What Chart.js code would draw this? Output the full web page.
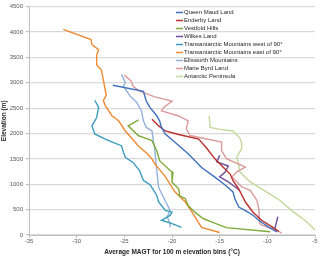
<!DOCTYPE html>
<html>
<head>
<meta charset="utf-8">
<script src="https://cdn.jsdelivr.net/npm/chart.js@4"></script>
<style>
  html, body { margin: 0; padding: 0; background: #ffffff; }
  #wrap { width: 320px; height: 256px; }
</style>
</head>
<body>
<div id="wrap"><canvas id="magtChart" width="320" height="256"></canvas></div>
<script>
"use strict";

// Elevations (m) and average MAGT (°C), per region
const queenMaudElev = [2950, 2830, 2640, 2510, 2350, 2250, 2120, 1990, 1860, 1600, 1330, 1140, 980, 850, 710, 550, 480, 390, 290, 160, 60];
const queenMaudTemp = [-26.2, -23.0, -22.7, -22.3, -21.6, -21.3, -21.1, -20.7, -19.9, -18.3, -16.9, -15.5, -14.4, -13.6, -13.4, -13.0, -12.3, -11.5, -10.9, -9.9, -9.0];

const enderbyElev = [2280, 2150, 2050, 1980, 1890, 1720, 1500, 1330, 1200, 1070, 910, 650, 450, 290, 160, 70];
const enderbyTemp = [-22.1, -21.4, -20.7, -19.3, -17.2, -16.4, -15.5, -14.6, -13.9, -13.6, -13.0, -12.3, -11.5, -10.6, -9.5, -8.8];

const vestfoldElev = [2270, 2150, 1955, 1910, 1860, 1660, 1465, 1270, 1235, 1040, 910, 810, 780, 715, 580, 450, 320, 255, 145, 63];
const vestfoldTemp = [-23.5, -24.6, -23.5, -22.8, -22.1, -21.6, -21.3, -20.2, -19.9, -20.0, -19.3, -19.2, -19.3, -18.6, -18.3, -17.6, -16.7, -15.8, -14.3, -9.7];

const wilkesElev = [1570, 1440, 1360, 1245, 1145, 1045, 950, 880, null, 360, 130];
const wilkesTemp = [-15.0, -15.3, -14.1, -14.4, -15.0, -14.1, -13.4, -12.9, null, -8.9, -9.2];

const transWestElev = [2655, 2520, 2315, 2150, 1990, 1890, 1825, 1760, 1630, 1530, 1430, 1270, 1075, 990, 845, 780, 650, 485, 450, 385, 290, 225, 150];
const transWestTemp = [-28.1, -27.7, -27.9, -28.4, -28.1, -27.0, -26.2, -25.3, -25.1, -24.9, -24.1, -23.4, -23.0, -22.3, -21.8, -21.6, -21.4, -20.7, -20.0, -20.2, -21.1, -20.0, -19.0];

const transEastElev = [4050, 3850, 3750, 3650, 3550, 3350, 3250, 3050, 2850, 2750, 2650, 2550, 2350, 2250, 2050, 1900, 1750, 1600, 1500, 1400, 1150, 850, 650, 450, 300, 150, 50];
const transEastTemp = [-31.4, -28.5, -28.4, -27.7, -27.9, -27.9, -27.4, -27.2, -27.0, -26.9, -27.2, -27.0, -26.3, -25.6, -24.9, -24.2, -23.5, -22.6, -22.1, -21.8, -20.7, -19.7, -18.6, -17.9, -17.4, -16.9, -15.0];

const ellsworthElev = [3165, 3000, 2935, 2740, 2610, 2445, 2250, 2120, 2050, 1660, 1270, 940, 745, 485, 355, 225, 155];
const ellsworthTemp = [-25.3, -24.9, -25.1, -24.4, -23.7, -23.2, -23.0, -22.7, -22.1, -21.8, -21.6, -21.4, -20.9, -20.2, -20.5, -20.2, -20.2];

const marieByrdElev = [3150, 3035, 2935, 2835, 2720, 2640, 2510, 2445, 2345, 2250, 2090, 1960, 1830, 1665, 1505, 1340, 1245, 1145, 950, 880, 685, 525, 230, 195, 100, 35];
const marieByrdTemp = [-25.0, -24.3, -24.1, -23.4, -21.8, -20.0, -20.9, -21.1, -19.3, -18.3, -18.5, -18.1, -14.8, -14.8, -14.3, -12.3, -13.2, -13.7, -12.7, -11.8, -11.1, -10.9, -10.8, -10.6, -9.1, -8.5];

const peninsulaElev = [2345, 2120, 2085, 2050, 1915, 1820, 1700, 1535, 1375, 1245, 1045, 850, 685, 460, 265, 100];
const peninsulaTemp = [-16.1, -16.0, -15.1, -13.6, -12.9, -12.7, -12.7, -13.2, -13.0, -12.9, -11.8, -10.1, -8.7, -7.3, -5.9, -5.0];

const regionNames = [
  "Queen Maud Land",
  "Enderby Land",
  "Vestfold Hills",
  "Wilkes Land",
  "Transantarctic Mountains west of 90°",
  "Transantarctic Mountains east of 90°",
  "Ellsworth Mountains",
  "Marie Byrd Land",
  "Antarctic Peninsula",
];

const regionColors = ["#3f70bd", "#b8302e", "#7eab3a", "#6d4f9e", "#3b9dbd", "#ef8a33", "#94b1db", "#dc9a9a", "#c3d89a"];

const tempTicks = [-35, -30, -25, -20, -15, -10, -5];
const elevTicks = [0, 500, 1000, 1500, 2000, 2500, 3000, 3500, 4000, 4500];

const seriesElev = [queenMaudElev, enderbyElev, vestfoldElev, wilkesElev, transWestElev, transEastElev, ellsworthElev, marieByrdElev, peninsulaElev];
const seriesTemp = [queenMaudTemp, enderbyTemp, vestfoldTemp, wilkesTemp, transWestTemp, transEastTemp, ellsworthTemp, marieByrdTemp, peninsulaTemp];

const datasets = regionNames.map((name, i) => ({
  label: name,
  data: seriesTemp[i].map((t, j) => ({ x: t, y: seriesElev[i][j] })),
  borderColor: regionColors[i],
  backgroundColor: regionColors[i],
  borderWidth: 1.4,
  showLine: true,
  pointRadius: 0,
  spanGaps: false,
  tension: 0,
}));

// legend drawn as a plain list in the upper right of the plot
const boxLegend = {
  id: "boxLegend",
  afterDatasetsDraw(chart) {
    const ctx = chart.ctx;
    const left = 176;
    let y = 12.5;
    ctx.save();
    ctx.font = "6px 'Liberation Sans', Arial, sans-serif";
    ctx.textBaseline = "middle";
    chart.data.datasets.forEach((ds) => {
      ctx.strokeStyle = ds.borderColor;
      ctx.lineWidth = 1.5;
      ctx.beginPath();
      ctx.moveTo(left, y);
      ctx.lineTo(left + 7, y);
      ctx.stroke();
      ctx.fillStyle = "#262626";
      ctx.fillText(ds.label, left + 8, y);
      y += 8;
    });
    ctx.restore();
  },
};

const tickFont = { family: "'Liberation Sans', Arial, sans-serif", size: 6 };
const titleFont = { family: "'Liberation Sans', Arial, sans-serif", size: 6.5, weight: "bold" };

new Chart(document.getElementById("magtChart").getContext("2d"), {
  type: "scatter",
  data: { datasets: datasets },
  plugins: [boxLegend],
  options: {
    responsive: false,
    animation: false,
    layout: { padding: { left: 0, right: 5, top: 5, bottom: 0 } },
    plugins: {
      legend: { display: false },
      tooltip: { enabled: false },
    },
    scales: {
      x: {
        type: "linear",
        min: -35,
        max: -5,
        afterBuildTicks: (scale) => {
          scale.ticks = tempTicks.map((v) => ({ value: v }));
        },
        afterFit: (scale) => {
          scale.height = 21;
        },
        grid: { drawOnChartArea: false, tickLength: 3, color: "#bfbfbf" },
        border: { color: "#bfbfbf", width: 1 },
        ticks: { font: tickFont, color: "#595959", padding: 0, maxRotation: 0, callback: (v) => String(v) },
        title: {
          display: true,
          text: "Average MAGT for 100 m elevation bins (°C)",
          font: titleFont,
          color: "#262626",
          padding: { top: 1, bottom: 0 },
        },
      },
      y: {
        type: "linear",
        min: 0,
        max: 4500,
        afterBuildTicks: (scale) => {
          scale.ticks = elevTicks.map((v) => ({ value: v }));
        },
        afterFit: (scale) => {
          scale.width = 29;
        },
        grid: { color: "#d9d9d9", lineWidth: 1.2, tickLength: 3, tickColor: "#bfbfbf" },
        border: { color: "#bfbfbf", width: 1 },
        ticks: { font: tickFont, color: "#595959", padding: 3, callback: (v) => String(v) },
        title: {
          display: true,
          text: "Elevation (m)",
          font: titleFont,
          color: "#262626",
          padding: { top: 0, bottom: 0 },
        },
      },
    },
  },
});
</script>
</body>
</html>
